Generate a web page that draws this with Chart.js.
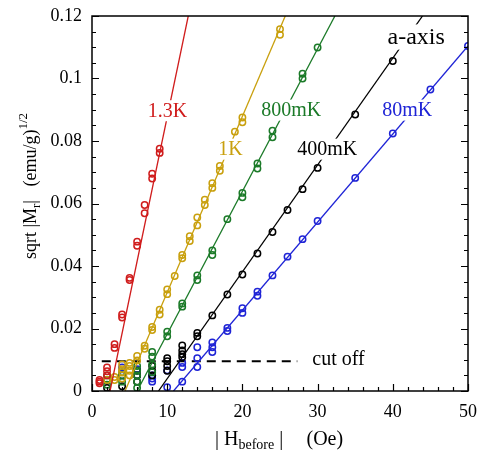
<!DOCTYPE html>
<html>
<head>
<meta charset="utf-8">
<script src="https://cdn.jsdelivr.net/npm/chart.js@4.4.0/dist/chart.umd.min.js"></script>
<style>
  html, body { margin: 0; padding: 0; background: #fff; }
  #wrap { width: 479px; height: 450px; }
</style>
</head>
<body>
<div id="wrap"><canvas id="remChart" width="479" height="450"></canvas></div>
<script>
// --- axis ticks ---
const xTicks = [0, 10, 20, 30, 40, 50];
const yTicks = [0, 0.02, 0.04, 0.06, 0.08, 0.1, 0.12];
const xMinorStep = 2;
const yMinorStep = 0.005;

// --- 1.3K ---
const hRed = [1, 2, 3, 4, 5, 6, 7, 8, 9];
const mRed = [
    [0.0025, 0.003, 0.0035], [0.005, 0.0063, 0.0075], [0.0138, 0.015], [0.0235, 0.0245],
    [0.0355, 0.0362], [0.0465, 0.0478], [0.0569, 0.0595], [0.068, 0.0695], [0.0762, 0.0775]
];
const fitHRed = [2.4, 12.8];
const fitMRed = [0, 0.12];

// --- 1K ---
const hGold = [2, 3, 4, 5, 6, 7, 8, 9, 10, 11, 12, 13, 14, 15, 16, 17, 19, 20, 25];
const mGold = [
    [0.0035], [0.0035, 0.0045], [0.004, 0.006, 0.007, 0.0085], [0.005, 0.0065, 0.008, 0.009],
    [0.0098, 0.0112], [0.0135, 0.0145], [0.0195, 0.0205], [0.0245, 0.026], [0.031, 0.0325],
    [0.0368], [0.0425, 0.0435], [0.048, 0.0495], [0.053, 0.0555], [0.0595, 0.0612],
    [0.065, 0.0665], [0.0705, 0.072], [0.083], [0.086, 0.0875], [0.114, 0.1158]
];
const fitHGold = [4.4, 25.7];
const fitMGold = [0, 0.12];

// --- 800mK ---
const hGreen = [2, 4, 6, 8, 10, 12, 14, 16, 18, 20, 22, 24, 28, 30];
const mGreen = [
    [0.002, 0.0035, 0.005], [0.003, 0.005, 0.006], [0.001, 0.003, 0.005, 0.0065, 0.008],
    [0.006, 0.0085, 0.011, 0.0125], [0.0175, 0.019], [0.027, 0.028], [0.0355, 0.037],
    [0.0435, 0.045], [0.055], [0.062, 0.0634], [0.0712, 0.0728], [0.0812, 0.0833],
    [0.1, 0.1015], [0.1099]
];
const fitHGreen = [6.0, 32.3];
const fitMGreen = [0, 0.12];

// --- 400mK ---
const hBlack = [2, 4, 6, 8, 10, 12, 14, 16, 18, 20, 22, 24, 26, 28, 30, 35, 40];
const mBlack = [
    [0.001], [0.0015], [0.003, 0.005, 0.0065], [0.005, 0.0065, 0.008],
    [0.0065, 0.008, 0.0095, 0.0105], [0.0108, 0.0118, 0.013, 0.0146], [0.0175, 0.0186],
    [0.0242], [0.0309], [0.0373], [0.044], [0.0509], [0.0579], [0.0646], [0.0714],
    [0.0885], [0.1056]
];
const fitHBlack = [8.84, 43.95];
const fitMBlack = [0, 0.12];

// --- 80mK ---
const hBlue = [4, 6, 8, 10, 12, 14, 16, 18, 20, 22, 24, 26, 28, 30, 35, 40, 45, 50];
const mBlue = [
    [0.005, 0.0075], [0.005, 0.007], [0.003, 0.004, 0.005], [0.0012, 0.0066],
    [0.003, 0.0077, 0.009], [0.0077, 0.0105, 0.014], [0.0125, 0.014, 0.0155],
    [0.0192, 0.0202], [0.025, 0.0265], [0.0305, 0.0318], [0.037], [0.043], [0.0486],
    [0.0544], [0.0682], [0.0824], [0.0965], [0.1104]
];
const fitHBlue = [10.84, 50];
const fitMBlue = [0, 0.1104];

// --- cut off ---
const cutH = [1.3, 27.3];
const cutM = [0.0095, 0.0095];

const SERIF = '"Liberation Serif", "Times New Roman", serif';
const series = [
    { color: '#d01c1c', h: hRed, m: mRed, fh: fitHRed, fm: fitMRed },
    { color: '#c9a00e', h: hGold, m: mGold, fh: fitHGold, fm: fitMGold },
    { color: '#1b7a28', h: hGreen, m: mGreen, fh: fitHGreen, fm: fitMGreen },
    { color: '#000000', h: hBlack, m: mBlack, fh: fitHBlack, fm: fitMBlack },
    { color: '#1f24d6', h: hBlue, m: mBlue, fh: fitHBlue, fm: fitMBlue }
];

function toPoints(h, m) {
    const pts = [];
    h.forEach((x, i) => m[i].forEach(y => pts.push({ x: x, y: y })));
    return pts;
}
function toLine(h, m) {
    return h.map((x, i) => ({ x: x, y: m[i] }));
}

const datasets = [];
series.forEach(s => {
    datasets.push({
        data: toPoints(s.h, s.m),
        showLine: false,
        pointRadius: 3.2,
        pointBorderWidth: 1.5,
        pointBorderColor: s.color,
        pointBackgroundColor: 'transparent'
    });
    datasets.push({
        data: toLine(s.fh, s.fm),
        showLine: true,
        borderColor: s.color,
        borderWidth: 1.3,
        pointRadius: 0
    });
});
datasets.push({
    data: toLine(cutH, cutM),
    showLine: true,
    borderColor: '#000',
    borderWidth: 2,
    borderDash: [9, 6],
    pointRadius: 0
});

// labels inside the plot (data coords)
const notes = [
    { t: '1.3K', x: 7.43, y: 0.0878, c: '#d01c1c', size: 20 },
    { t: '1K', x: 16.8, y: 0.0755, c: '#c9a00e', size: 20 },
    { t: '800mK', x: 22.5, y: 0.088, c: '#1b7a28', size: 20 },
    { t: '400mK', x: 27.3, y: 0.0755, c: '#000', size: 20 },
    { t: '80mK', x: 38.6, y: 0.088, c: '#1f24d6', size: 20 },
    { t: 'a-axis', x: 39.3, y: 0.111, c: '#000', size: 24 },
    { t: 'cut off', x: 29.3, y: 0.0082, c: '#000', size: 20, noBox: true }
];

function drawPieces(ctx, pieces, x0, y0) {
    let x = x0;
    pieces.forEach(p => {
        ctx.font = p.size + 'px ' + SERIF;
        ctx.fillText(p.t, x, y0 + (p.dy || 0));
        x += ctx.measureText(p.t).width;
    });
}
function piecesWidth(ctx, pieces) {
    let w = 0;
    pieces.forEach(p => { ctx.font = p.size + 'px ' + SERIF; w += ctx.measureText(p.t).width; });
    return w;
}

const decor = {
    id: 'decor',
    afterDatasetsDraw(chart) {
        const ctx = chart.ctx;
        const xs = chart.scales.x, ys = chart.scales.y;
        ctx.save();
        ctx.textBaseline = 'alphabetic';
        notes.forEach(n => {
            ctx.font = n.size + 'px ' + SERIF;
            const px = xs.getPixelForValue(n.x), py = ys.getPixelForValue(n.y);
            const w = ctx.measureText(n.t).width;
            if (!n.noBox) {
                ctx.fillStyle = '#fff';
                ctx.fillRect(px - 3, py - n.size * 0.82, w + 6, n.size * 1.05);
            }
            ctx.fillStyle = n.c;
            ctx.fillText(n.t, px, py);
        });
        ctx.restore();
    },
    afterDraw(chart) {
        const ctx = chart.ctx;
        const a = chart.chartArea;
        const xs = chart.scales.x, ys = chart.scales.y;
        ctx.save();
        ctx.strokeStyle = '#000';
        ctx.lineWidth = 1.5;
        ctx.strokeRect(a.left, a.top, a.right - a.left, a.bottom - a.top);

        ctx.lineWidth = 1.2;
        ctx.beginPath();
        for (let v = 0; v <= 50 + 1e-9; v += xMinorStep) {
            const px = Math.round(xs.getPixelForValue(v)) + 0.5;
            const len = xTicks.includes(v) ? 7 : 4;
            ctx.moveTo(px, a.bottom);
            ctx.lineTo(px, a.bottom - len);
        }
        for (let k = 0; k <= 24; k++) {
            const v = k * yMinorStep;
            const py = Math.round(ys.getPixelForValue(v)) + 0.5;
            const len = k % 4 === 0 ? 7 : 4;
            ctx.moveTo(a.left, py);
            ctx.lineTo(a.left + len, py);
            ctx.moveTo(a.right, py);
            ctx.lineTo(a.right - len, py);
        }
        ctx.stroke();

        // axis titles
        ctx.fillStyle = '#000';
        ctx.textBaseline = 'alphabetic';
        drawPieces(ctx, [
            { t: '| H', size: 20 },
            { t: 'before', size: 14, dy: 4 },
            { t: ' |', size: 20 }
        ], 215, 445);
        ctx.font = '20px ' + SERIF;
        ctx.fillText('(Oe)', 306.5, 445);

        const yPieces = [
            { t: 'sqrt |M', size: 18 },
            { t: 'r', size: 13, dy: 4 },
            { t: '|   (emu/g)', size: 18 },
            { t: '1/2', size: 13, dy: -9 }
        ];
        const w = piecesWidth(ctx, yPieces);
        ctx.translate(36, 186);
        ctx.rotate(-Math.PI / 2);
        drawPieces(ctx, yPieces, -w / 2, 0);
        ctx.restore();
    }
};

new Chart(document.getElementById('remChart'), {
    type: 'scatter',
    data: { datasets: datasets },
    options: {
        responsive: false,
        animation: false,
        devicePixelRatio: 1,
        layout: { padding: { top: 16, right: 11, left: 0, bottom: 0 } },
        plugins: { legend: { display: false }, tooltip: { enabled: false } },
        scales: {
            x: {
                type: 'linear', min: 0, max: 50,
                afterBuildTicks: s => { s.ticks = xTicks.map(v => ({ value: v })); },
                afterFit: s => { s.height = 59; s.paddingLeft = 0; s.paddingRight = 0; },
                grid: { display: false, drawTicks: false },
                border: { display: false },
                ticks: { color: '#000', padding: 10, maxRotation: 0, font: { family: SERIF, size: 18 } }
            },
            y: {
                type: 'linear', min: 0, max: 0.12,
                afterBuildTicks: s => { s.ticks = yTicks.map(v => ({ value: v })); },
                afterFit: s => { s.width = 92; s.paddingTop = 0; s.paddingBottom = 0; },
                grid: { display: false, drawTicks: false },
                border: { display: false },
                ticks: {
                    color: '#000', padding: 10, font: { family: SERIF, size: 18 },
                    callback: v => String(+v.toFixed(3))
                }
            }
        }
    },
    plugins: [decor]
});
</script>
</body>
</html>
